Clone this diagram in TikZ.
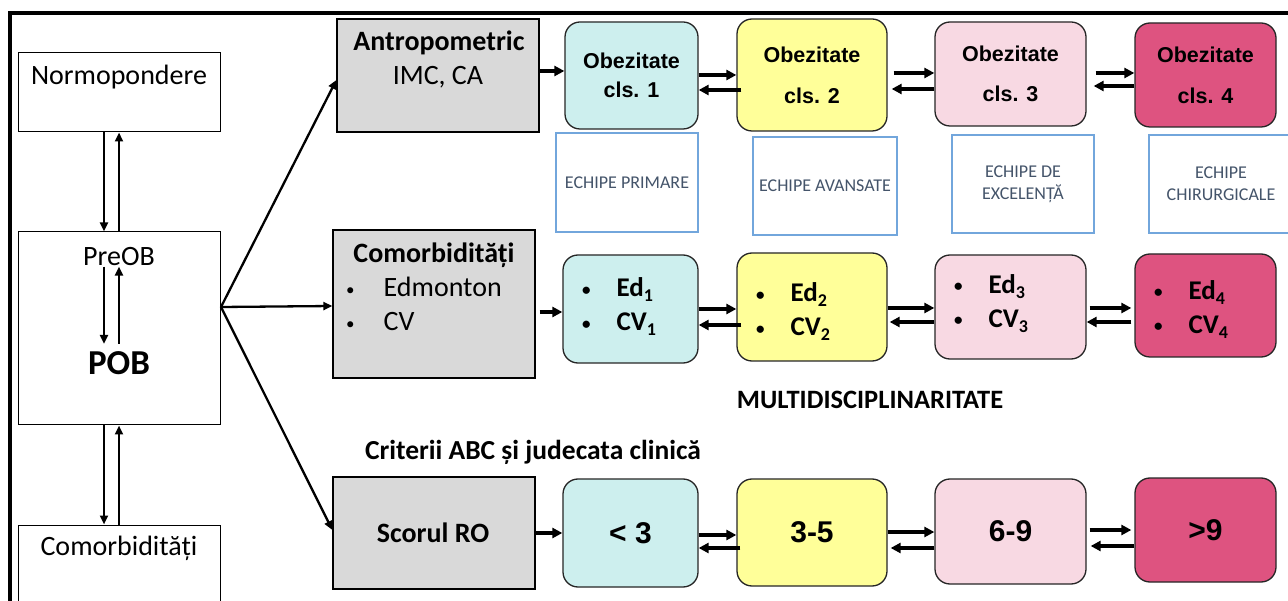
\documentclass[tikz,border=0pt]{standalone}
\usepackage{fontspec}
\setmainfont{Carlito}
\newfontfamily\arialfont{Liberation Sans}
\usetikzlibrary{arrows.meta}

\definecolor{lvlA}{HTML}{CDEFEE}
\definecolor{lvlB}{HTML}{FFFF99}
\definecolor{lvlC}{HTML}{F8D9E3}
\definecolor{lvlD}{HTML}{DE5380}
\definecolor{grayfill}{HTML}{D9D9D9}
\definecolor{teamblue}{HTML}{72A6DC}
\definecolor{teamtext}{HTML}{44546A}

% small list bullet and lowered subscript
\newcommand\dotmark{\raisebox{1.5pt}{\fontsize{17}{17}\selectfont •}}
\newcommand\lowsub[1]{\raisebox{-5pt}{\fontsize{18}{18}\selectfont #1}}

\begin{document}
\begin{tikzpicture}[x=1pt,y=-1pt,
  wbox/.style={draw=black, line width=1pt, fill=white, inner sep=0pt},
  gbox/.style={draw=black, line width=1.3pt, fill=grayfill, inner sep=0pt},
  rbox/.style={draw=black!85, line width=1.3pt, rounded corners=15pt, inner sep=0pt, align=center},
  tbox/.style={draw=teamblue, line width=1.2pt, inner sep=0pt, align=center, text=teamtext,
               font=\fontsize{18}{22}\selectfont},
  big/.style={font=\fontsize{28}{34}\selectfont},
  bigb/.style={font=\fontsize{28}{34}\selectfont\bfseries},
  obz/.style={font=\arialfont\fontsize{21.5}{29}\selectfont\bfseries},
  score/.style={font=\arialfont\fontsize{30}{36}\selectfont\bfseries},
  edcv/.style={font=\fontsize{27}{34}\selectfont\bfseries, anchor=west, inner sep=0pt},
  arr/.style={line width=3.4pt, -{Triangle[length=10pt,width=10pt]}},
  tarr/.style={line width=2.3pt, -{Triangle[length=9pt,width=8pt]}}
]
\useasboundingbox (0,0) rectangle (1288,601);
\fill[white] (0,0) rectangle (1288,601);
\clip (0,0) rectangle (1288,601);

% outer frame
\draw[line width=3.2pt] (10,640) -- (10,13) -- (1300,13);

% left column
\node[wbox, minimum width=202, minimum height=79] (norm) at (119,92.5) {};
\node[big] (normT) at (119,77) {Normopondere};
\node[wbox, minimum width=202, minimum height=193] (pob) at (119,328.5) {};
\node[big] (preT) at (119,257) {PreOB};
\node[font=\fontsize{35}{40}\selectfont\bfseries] (pobT) at (119,363) {POB};
\node[wbox, minimum width=202, minimum height=115] (comL) at (119,582.5) {};
\node[big] (comLT) at (119,548) {Comorbidități};

\draw[tarr] ([xshift=-15pt]norm.south) -- ([xshift=-15pt]pob.north);
\draw[tarr] (pob.north) -- (norm.south);
\draw[tarr, shorten <=-3pt, shorten >=4pt] ([xshift=-15pt]preT.south) -- ([xshift=-15pt]pobT.north);
\draw[tarr, shorten <=4pt, shorten >=-3pt] (pobT.north) -- (preT.south);
\draw[tarr] ([xshift=-15pt]pob.south) -- ([xshift=-15pt]comL.north);
\draw[tarr] (comL.north) -- (pob.south);

% gray boxes
\node[gbox, minimum width=202, minimum height=113] (antro) at (438,75.5) {};
\node[bigb] (antroT) at (439,43) {Antropometric};
\node[big] (antroV) at (438,77) {IMC, CA};
\node[gbox, minimum width=202, minimum height=148] (comG) at (434,304) {};
\node[bigb] (comGT) at (434,255) {Comorbidități};
\node[big, anchor=west, inner sep=0pt] (comGL) at (346,307)
  {\begin{tabular}{@{}l@{\hspace{29pt}}l@{}}\dotmark&Edmonton\\\dotmark&CV\end{tabular}};
\node[gbox, minimum width=202, minimum height=112] (scor) at (434,533) {};
\node[bigb] (scorT) at (433,533) {Scorul RO};

% fan-out from the PreOB/POB box
\coordinate (fan) at (221,307);
\draw[tarr] (fan) -- ([yshift=-4.5pt]antro.west);
\draw[tarr] (fan) -- ([yshift=-2pt]comG.west);
\draw[tarr] (fan) -- ([yshift=3pt]scor.west);

% row 1: obesity classes
\node[rbox, fill=lvlA, minimum width=133, minimum height=107, obz] (o1) at (631.5,75.5) {Obezitate\\cls. 1};
\node[rbox, fill=lvlB, minimum width=150, minimum height=112, obz] (o2) at (812,75) {Obezitate\\[12pt]cls. 2};
\node[rbox, fill=lvlC, minimum width=151, minimum height=104, obz] (o3) at (1010.5,74) {Obezitate\\[11pt]cls. 3};
\node[rbox, fill=lvlD, minimum width=141, minimum height=104, obz] (o4) at (1205.5,75) {Obezitate\\[12pt]cls. 4};

\draw[arr] ([yshift=4.5pt]antro.east) -- ([yshift=4.5pt]o1.west);
\draw[arr] ([yshift=0.5pt]o1.east) -- (o2.west);
\draw[arr, shorten <=-5pt] ([yshift=-15pt]o2.west) -- ([yshift=-14.5pt]o1.east);
\draw[arr, shorten <=6pt] ([yshift=2pt]o2.east) -- ([yshift=1pt]o3.west);
\draw[arr, shorten >=4pt] ([yshift=-15pt]o3.west) -- ([yshift=-14pt]o2.east);
\draw[arr, shorten <=9pt] ([yshift=1pt]o3.east) -- ([yshift=2pt]o4.west);
\draw[arr, shorten >=7pt] ([yshift=-11pt]o4.west) -- ([yshift=-12pt]o3.east);

% teams
\node[tbox, minimum width=142, minimum height=99] (t1) at (627,182.5) {ECHIPE PRIMARE};
\node[tbox, minimum width=144, minimum height=98] (t2) at (825,186) {ECHIPE AVANSATE};
\node[tbox, minimum width=142, minimum height=98] (t3) at (1023,184) {ECHIPE DE\\EXCELENȚĂ};
\node[tbox, minimum width=144, minimum height=98] (t4) at (1221,184) {ECHIPE\\CHIRURGICALE};

% row 2: Edmonton / CV stages
\node[rbox, fill=lvlA, minimum width=135, minimum height=108] (r1) at (630.5,309) {};
\node[rbox, fill=lvlB, minimum width=150, minimum height=108] (r2) at (812,307) {};
\node[rbox, fill=lvlC, minimum width=151, minimum height=104] (r3) at (1010.5,307) {};
\node[rbox, fill=lvlD, minimum width=141, minimum height=103] (r4) at (1205.5,305.5) {};
\node[edcv] (r1t) at (582,307) {\begin{tabular}{@{}l@{\hspace{26pt}}l@{}}\dotmark&Ed\lowsub{1}\\\dotmark&CV\lowsub{1}\end{tabular}};
\node[edcv] (r2t) at (756,312) {\begin{tabular}{@{}l@{\hspace{26pt}}l@{}}\dotmark&Ed\lowsub{2}\\\dotmark&CV\lowsub{2}\end{tabular}};
\node[edcv] (r3t) at (954,303.5) {\begin{tabular}{@{}l@{\hspace{26pt}}l@{}}\dotmark&Ed\lowsub{3}\\\dotmark&CV\lowsub{3}\end{tabular}};
\node[edcv] (r4t) at (1154,309.5) {\begin{tabular}{@{}l@{\hspace{26pt}}l@{}}\dotmark&Ed\lowsub{4}\\\dotmark&CV\lowsub{4}\end{tabular}};

\draw[arr, shorten <=4pt] ([yshift=-8pt]comG.east) -- ([yshift=-3pt]r1.west);
\draw[arr] (r1.east) -- ([yshift=-2pt]r2.west);
\draw[arr, shorten <=-5pt] ([yshift=-18pt]r2.west) -- ([yshift=-16pt]r1.east);
\draw[arr] ([yshift=-1pt]r2.east) -- ([yshift=-1pt]r3.west);
\draw[arr, shorten >=2pt] ([yshift=-15pt]r3.west) -- ([yshift=-15pt]r2.east);
\draw[arr, shorten <=3pt, shorten >=3pt] ([yshift=-1pt]r3.east) -- ([yshift=-2.5pt]r4.west);
\draw[arr, shorten <=3pt] ([yshift=-16.5pt]r4.west) -- ([yshift=-15pt]r3.east);

% headings
\node[font=\fontsize{26.5}{32}\selectfont\bfseries] (multi) at (870,400) {MULTIDISCIPLINARITATE};
\node[font=\fontsize{27.5}{33}\selectfont\bfseries] (abc) at (533,452) {Criterii ABC și judecata clinică};

% row 3: RO score
\node[rbox, fill=lvlA, minimum width=135, minimum height=108, score] (s1) at (630.5,533) {< 3};
\node[rbox, fill=lvlB, minimum width=150, minimum height=107, score] (s2) at (812,532.5) {3-5};
\node[rbox, fill=lvlC, minimum width=151, minimum height=105, score] (s3) at (1010.5,531.5) {6-9};
\node[rbox, fill=lvlD, minimum width=141, minimum height=104, score] (s4) at (1205.5,530) {>9};

\draw[arr] (scor.east) -- (s1.west);
\draw[arr] ([yshift=-2pt]s1.east) -- ([yshift=-2.5pt]s2.west);
\draw[arr, shorten <=-4pt] ([yshift=-15.5pt]s2.west) -- ([yshift=-15pt]s1.east);
\draw[arr] ([yshift=0.5pt]s2.east) -- ([yshift=-0.5pt]s3.west);
\draw[arr, shorten >=3pt] ([yshift=-16.5pt]s3.west) -- ([yshift=-15.5pt]s2.east);
\draw[arr, shorten <=3pt, shorten >=3pt] ([yshift=1.5pt]s3.east) -- (s4.west);
\draw[arr, shorten >=4pt] ([yshift=-16pt]s4.west) -- ([yshift=-14.5pt]s3.east);
\end{tikzpicture}
\end{document}
